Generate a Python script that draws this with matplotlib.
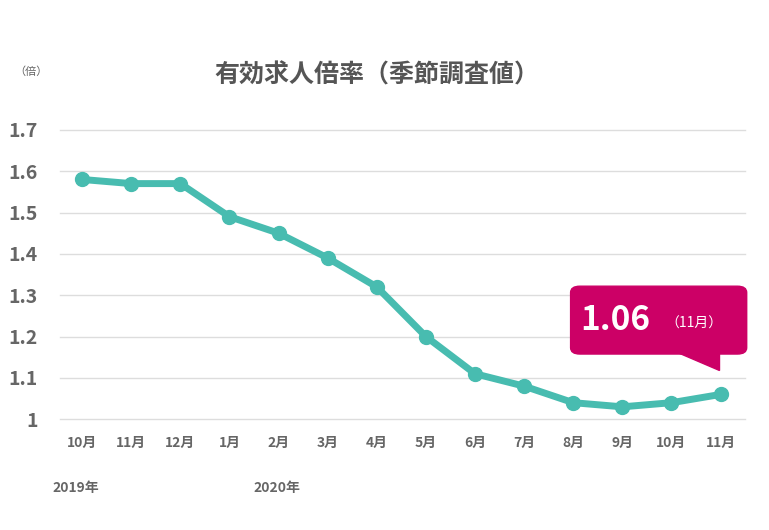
import matplotlib.pyplot as plt
from matplotlib.patches import FancyBboxPatch, Polygon

plt.rcParams['font.family'] = ['Noto Sans CJK JP', 'DejaVu Sans']

months = ['10月', '11月', '12月', '1月', '2月', '3月', '4月', '5月',
          '6月', '7月', '8月', '9月', '10月', '11月']
ratio = [1.58, 1.57, 1.57, 1.49, 1.45, 1.39, 1.32, 1.20,
         1.11, 1.08, 1.04, 1.03, 1.04, 1.06]
yticks = [1, 1.1, 1.2, 1.3, 1.4, 1.5, 1.6, 1.7]
ytick_labels = ['1', '1.1', '1.2', '1.3', '1.4', '1.5', '1.6', '1.7']

GRAY = '#666666'
TEAL = '#48bcb0'
MAGENTA = '#cc0066'

fig = plt.figure(figsize=(7.69, 5.30), dpi=100)
ax = fig.add_axes([0.078, 0.209, 0.891, 0.546])

x = list(range(len(months)))
for yv in yticks:
    ax.axhline(yv, color='#dddddd', lw=1, clip_on=False, zorder=1)
ax.plot(x, ratio, color=TEAL, lw=5, marker='o', ms=10, clip_on=False, zorder=3)

ax.set_xlim(-0.45, len(months) - 0.5)
ax.set_ylim(1, 1.7)
ax.set_yticks(yticks)
ax.set_yticklabels(ytick_labels, fontsize=14, fontweight='bold', color=GRAY)
ax.set_xticks(x)
ax.set_xticklabels(months, fontsize=10, fontweight='bold', color=GRAY)
ax.tick_params(length=0)
ax.tick_params(axis='x', pad=12)
ax.tick_params(axis='y', pad=16)
for s in ax.spines.values():
    s.set_visible(False)

fig.text(0.49, 0.858, '有効求人倍率（季節調査値）', ha='center', va='center',
         fontsize=18, fontweight='bold', color='#555555')
fig.text(0.018, 0.865, '（倍）', fontsize=8, color=GRAY, va='center')
fig.text(0.068, 0.08, '2019年', fontsize=10, fontweight='bold', color=GRAY, va='center')
fig.text(0.33, 0.08, '2020年', fontsize=10, fontweight='bold', color=GRAY, va='center')

# callout
fig.patches.append(FancyBboxPatch((0.742, 0.332), 0.229, 0.128,
                                  boxstyle='round,pad=0,rounding_size=0.012',
                                  transform=fig.transFigure, color=MAGENTA))
fig.patches.append(Polygon([(0.88, 0.335), (0.935, 0.335), (0.935, 0.302)],
                           closed=True, transform=fig.transFigure, color=MAGENTA))
fig.text(0.755, 0.395, '1.06', fontsize=24, fontweight='bold', color='white', va='center')
fig.text(0.865, 0.39, '（11月）', fontsize=10, color='white', va='center')

fig.savefig('out.png', dpi=100)
